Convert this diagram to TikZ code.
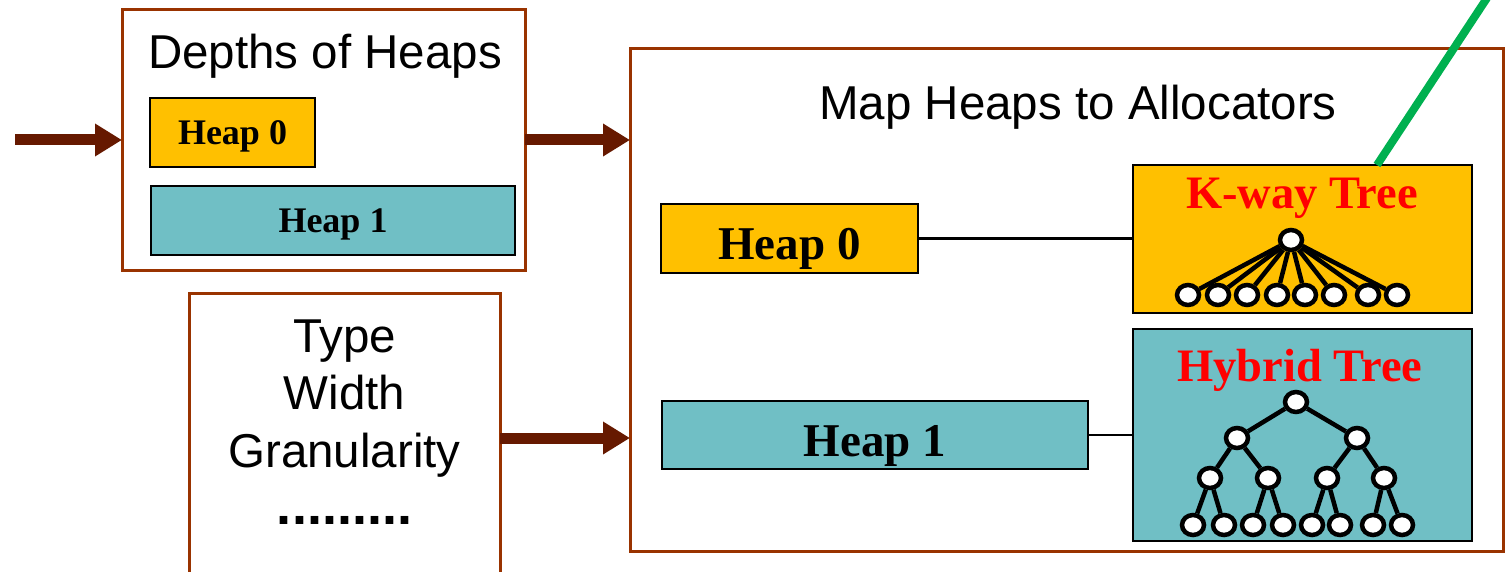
\documentclass[tikz,border=0pt]{standalone}
\usepackage{fontspec}
\setmainfont{Liberation Serif}
\newfontfamily\arialf{Liberation Sans}
\usetikzlibrary{arrows.meta,calc}
\definecolor{boxbrown}{HTML}{993300}
\definecolor{arrbrown}{HTML}{661900}
\definecolor{heapyellow}{HTML}{FFC000}
\definecolor{heapteal}{HTML}{70BFC5}
\definecolor{lineGreen}{HTML}{00B050}
\tikzset{
  brownbox/.style={draw=boxbrown, line width=3pt, fill=white, inner sep=0pt, outer sep=0pt},
  arialtxt/.style={font=\arialf\fontsize{47.5}{56}\selectfont, inner sep=0pt, anchor=base},
  heapbox/.style={draw=black, line width=1.3pt, inner sep=0pt, outer sep=0pt, font=\bfseries},
  smallheap/.style={heapbox, font=\bfseries\fontsize{36}{40}\selectfont, text height=24pt, text depth=0pt},
  bigheap/.style={heapbox, font=\bfseries\fontsize{47}{52}\selectfont, text height=42pt, text depth=0pt},
  treebox/.style={draw=black, line width=2pt, inner sep=0pt, outer sep=0pt},
  treetitle/.style={font=\bfseries\fontsize{46.5}{50}\selectfont, text=red, inner sep=0pt, anchor=base},
  bigarrow/.style={draw=arrbrown, line width=11pt, -{Triangle[length=27pt,width=31pt]}},
  tn/.style={ellipse, draw=black, fill=white, line width=4.5pt, minimum width=22pt, minimum height=20pt, inner sep=0pt},
  te/.style={draw=black, line width=4.5pt},
  link/.style={draw=black, line width=2.5pt},
}
\usetikzlibrary{shapes.geometric}
\begin{document}
\begin{tikzpicture}[x=1pt,y=-1pt]
\useasboundingbox (0,0) rectangle (1506,572);
\clip (0,0) rectangle (1506,572);

% Depths of Heaps box
\node[brownbox, minimum width=403pt, minimum height=260pt] (depths) at (323.5,140) {};
\node[arialtxt] (depthsT) at (325,69) {Depths of Heaps};
\node[smallheap, fill=heapyellow, minimum width=165pt, minimum height=69pt] (sh0) at (232.5,132.5) {Heap 0};
\node[smallheap, fill=heapteal, minimum width=364pt, minimum height=69pt] (sh1) at (333,220.5) {Heap 1};

% Type box
\node[brownbox, minimum width=311pt, minimum height=290pt] (type) at (344.5,438) {};
\node[arialtxt] (tyA) at (344.5,352) {Type};
\node[arialtxt] (tyB) at (344.5,409) {Width};
\node[arialtxt] (tyC) at (344.5,467) {Granularity};
\node[arialtxt, font=\arialf\bfseries\fontsize{54}{60}\selectfont] (tyD) at (344.5,524) {.........};

% Map box
\node[brownbox, minimum width=873pt, minimum height=502pt] (map) at (1066.5,300) {};
\node[arialtxt] (mapT) at (1078,120) {Map Heaps to Allocators};

\node[bigheap, fill=heapyellow, minimum width=257pt, minimum height=69pt] (bh0) at (789.5,238.5) {Heap 0};
\node[bigheap, fill=heapteal, minimum width=426pt, minimum height=68pt] (bh1) at (875,435) {Heap 1};

\node[treebox, fill=heapyellow, minimum width=339pt, minimum height=148pt] (kway) at (1302.5,239) {};
\node[treebox, fill=heapteal, minimum width=339pt, minimum height=212pt] (hyb) at (1302.5,435) {};

% green line
\coordinate (gtop) at (1487,-2);
\coordinate (gx) at (1377,0);
\draw[lineGreen, line width=8pt] (gtop) -- (kway.north -| gx);

% links
\draw[link] (bh0.east) -- (bh0.east -| kway.west);
\draw[link] (bh1.east) -- (bh1.east -| hyb.west);

% arrows
\coordinate (inA) at (15,140);
\draw[bigarrow] (inA) -- (depths.west);
\draw[bigarrow] (depths.east) -- (depths.east -| map.west);
\draw[bigarrow] (type.east) -- (type.east -| map.west);

% K-way tree
\node[treetitle] (kwT) at (1302,208) {K-way Tree};
\node[tn] (kr) at (1291,240) {};
\foreach \x [count=\i] in {1188,1218,1247,1277,1305,1334,1368,1397}{
  \node[tn] (kl\i) at (\x,295) {};
  \draw[te] (kr) -- (kl\i);
}

% Hybrid tree
\node[treetitle] (hyT) at (1300,381) {Hybrid Tree};
\node[tn] (h0) at (1296,402) {};
\node[tn] (h1) at (1237,438) {};
\node[tn] (h2) at (1357,438) {};
\foreach \x [count=\i] in {1210,1268,1327,1384}{
  \node[tn] (g\i) at (\x,478) {};
}
\foreach \x [count=\i] in {1193,1224,1253,1283,1312,1340,1373,1402}{
  \node[tn] (f\i) at (\x,525) {};
}
\draw[te] (h0) -- (h1); \draw[te] (h0) -- (h2);
\draw[te] (h1) -- (g1); \draw[te] (h1) -- (g2);
\draw[te] (h2) -- (g3); \draw[te] (h2) -- (g4);
\draw[te] (g1) -- (f1); \draw[te] (g1) -- (f2);
\draw[te] (g2) -- (f3); \draw[te] (g2) -- (f4);
\draw[te] (g3) -- (f5); \draw[te] (g3) -- (f6);
\draw[te] (g4) -- (f7); \draw[te] (g4) -- (f8);
\end{tikzpicture}
\end{document}
